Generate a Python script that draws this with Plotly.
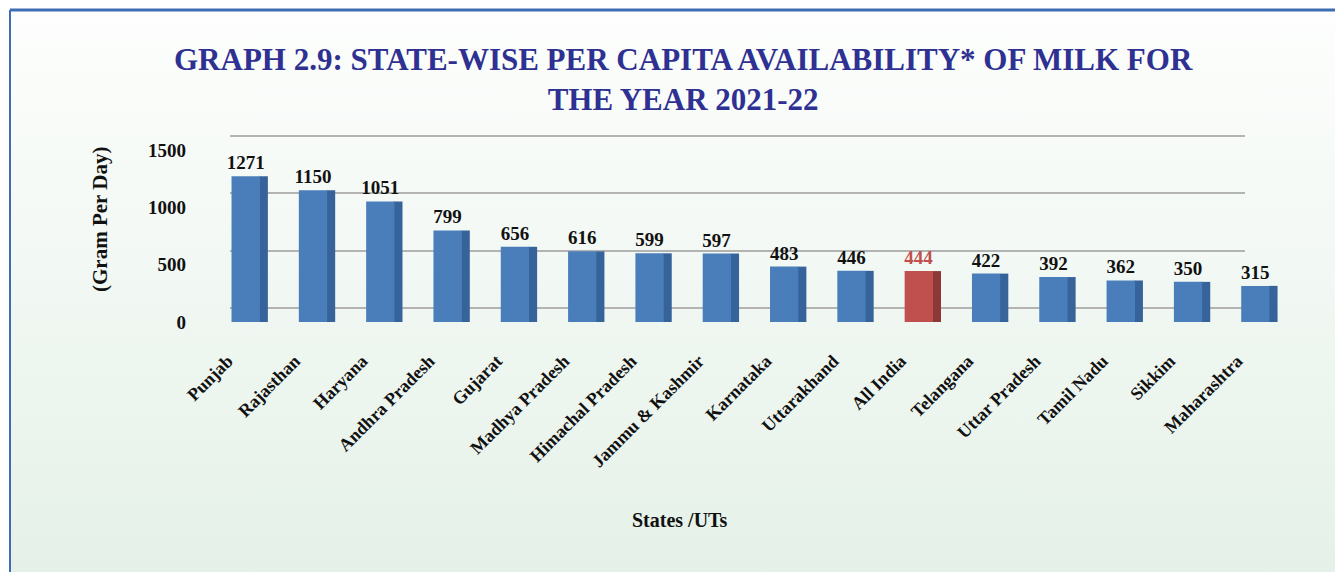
import plotly.graph_objects as go

states = [
    "Punjab", "Rajasthan", "Haryana", "Andhra Pradesh", "Gujarat",
    "Madhya Pradesh", "Himachal Pradesh", "Jammu & Kashmir", "Karnataka",
    "Uttarakhand", "All India", "Telangana", "Uttar Pradesh", "Tamil Nadu",
    "Sikkim", "Maharashtra",
]
milk_g_per_day = [1271, 1150, 1051, 799, 656, 616, 599, 597, 483, 446, 444, 422, 392, 362, 350, 315]
y_ticks = [0, 500, 1000, 1500]

# page body has an 8px margin, so the figure is sized to the visible area
OFF = 8
W, H = 1343 - OFF, 572 - OFF
ML, MR, MT, MB = 204, 54, 120, 250
PW, PH = W - ML - MR, H - MT - MB


def px(x):
    # screen x -> paper x
    return (x - OFF - ML) / PW


def py(y):
    # screen y -> paper y
    return (H - MB - (y - OFF)) / PH


FONT = "Liberation Serif"
front = ["#c0504d" if s == "All India" else "#4a7ebb" for s in states]
side = ["#8c3836" if s == "All India" else "#36639a" for s in states]
label_col = ["#c0504d" if s == "All India" else "#111111" for s in states]
idx = list(range(len(states)))

# bars: 0 at screen y 322, 1500 at screen y 150
bar_top = py(150)
units_per_px = 1500 / (322 - 150)
# back-wall gridlines sit 14px above the bar baseline, like the 3d original
grid_lo = -14 * units_per_px
grid_hi = grid_lo + (322 - (MT + OFF)) * units_per_px

fig = go.Figure()
# invisible point so the back-wall grid subplot gets drawn (under the bars)
fig.add_trace(go.Scatter(x=[0.5], y=[0], mode="markers", marker=dict(opacity=0),
                         hoverinfo="skip", xaxis="x", yaxis="y"))
# side face of the pseudo 3d bars
fig.add_trace(go.Bar(
    x=idx, y=milk_g_per_day, width=0.13, offset=0.2, xaxis="x2", yaxis="y2",
    marker=dict(color=side, line=dict(width=0)), hoverinfo="skip",
))
fig.add_trace(go.Bar(
    x=idx, y=milk_g_per_day, width=0.42, offset=-0.21, xaxis="x2", yaxis="y2",
    marker=dict(color=front, line=dict(width=0)),
    text=[f"<b>{v}</b>" for v in milk_g_per_day], textposition="outside",
    textfont=dict(family=FONT, size=19, color=label_col),
    constraintext="none", cliponaxis=False, customdata=states,
    hovertemplate="%{customdata}: %{y}<extra></extra>",
))

svg = (
    "data:image/svg+xml;utf8,<svg xmlns='http://www.w3.org/2000/svg' width='100' height='100' "
    "preserveAspectRatio='none'><defs><linearGradient id='g' x1='0' y1='0' x2='0' y2='1'>"
    "<stop offset='0' stop-color='%23fdfefd'/><stop offset='1' stop-color='%23e5f1e8'/>"
    "</linearGradient></defs><rect width='100' height='100' fill='url(%23g)'/></svg>"
)

fig.update_layout(
    width=W, height=H,
    margin=dict(l=ML, r=MR, t=MT, b=MB),
    paper_bgcolor="white", plot_bgcolor="rgba(0,0,0,0)",
    barmode="overlay", showlegend=False,
    font=dict(family=FONT, color="#111111"),
    xaxis=dict(domain=[px(230), px(1245)], range=[0, 1], visible=False, fixedrange=True),
    yaxis=dict(
        range=[grid_lo, grid_hi], tickvals=y_ticks, showticklabels=False,
        showgrid=True, gridcolor="#b3b3b3", gridwidth=1.5, zeroline=False, ticks="",
        showline=False, fixedrange=True,
    ),
    xaxis2=dict(
        domain=[0, 1], anchor="y2",
        tickmode="array", tickvals=idx, ticktext=[f"<b>{s}</b>" for s in states],
        tickangle=-45, tickfont=dict(family=FONT, size=18, color="#111111"),
        range=[-0.5, len(states) - 0.5], showgrid=False, zeroline=False,
        showline=False, ticks="", ticklabelstandoff=24, ticklabelshift=-18,
        automargin=False,
    ),
    yaxis2=dict(
        anchor="x2", domain=[0, bar_top], range=[0, 1500], tickvals=y_ticks,
        ticktext=[f"<b>{t}</b>" for t in y_ticks],
        tickfont=dict(family=FONT, size=19, color="#111111"),
        showgrid=False, zeroline=False, ticks="", ticklabelstandoff=25,
        automargin=False,
    ),
    images=[dict(
        source=svg, xref="paper", yref="paper", x=px(10), y=py(10),
        sizex=px(1343) - px(10), sizey=py(10) - py(572), xanchor="left", yanchor="top",
        sizing="stretch", layer="below",
    )],
    shapes=[
        dict(type="line", xref="paper", yref="paper", x0=px(10), x1=px(1343), y0=py(10), y1=py(10),
             line=dict(color="#3d6db3", width=3)),
        dict(type="line", xref="paper", yref="paper", x0=px(10), x1=px(10), y0=py(10), y1=py(572),
             line=dict(color="#3d6db3", width=2)),
    ],
    annotations=[
        dict(text="<b>GRAPH 2.9: STATE-WISE PER CAPITA AVAILABILITY* OF MILK FOR<br>THE YEAR 2021-22</b>",
             xref="paper", yref="paper", x=px(683), y=py(79), xanchor="center", yanchor="middle",
             showarrow=False, font=dict(family=FONT, size=31, color="#2e3192")),
        dict(text="<b>States /UTs</b>", xref="paper", yref="paper", x=px(680), y=py(533),
             showarrow=False, font=dict(family=FONT, size=20, color="#111111")),
        dict(text="<b>(Gram Per Day)</b>", xref="paper", yref="paper", x=px(100), y=py(220),
             xanchor="center", yanchor="middle", textangle=-90, showarrow=False,
             font=dict(family=FONT, size=21, color="#111111")),
    ],
)

fig.write_html("out.html")
